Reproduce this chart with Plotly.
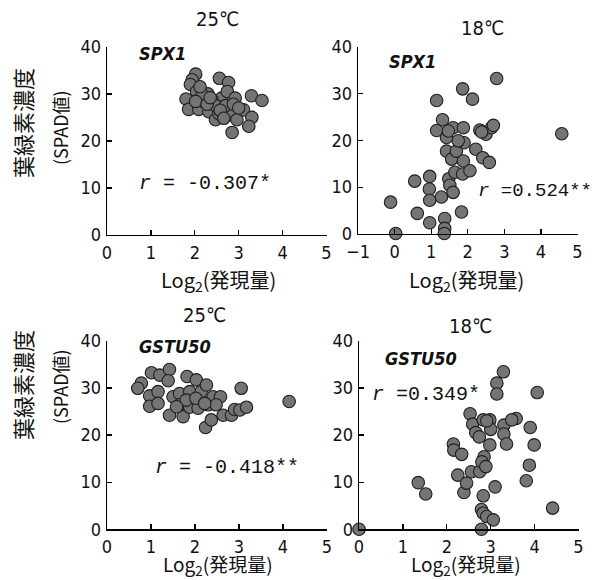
import plotly.graph_objects as go

# ---------------- data ----------------
spx1_25_x = [2.02, 1.94, 1.90, 1.80, 1.86, 2.04, 2.09, 2.30, 2.32, 2.47, 2.56, 2.61, 2.64, 2.77, 2.74, 2.92,
             2.80, 2.96, 2.85, 3.11, 3.30, 3.23, 3.29, 3.53, 2.39, 2.20, 2.17, 2.47, 2.70, 2.55, 2.02, 2.28,
             2.12, 2.35, 2.58, 2.88, 3.00, 2.66]
spx1_25_y = [34.2, 33.0, 32.0, 28.9, 26.7, 30.5, 26.7, 30.0, 26.2, 24.5, 33.3, 29.1, 27.2, 32.4, 30.5, 29.1,
             25.5, 24.5, 21.8, 26.6, 25.0, 23.1, 29.6, 28.6, 28.8, 28.4, 29.8, 27.5, 27.5, 25.8, 28.4, 27.8,
             31.5, 29.2, 26.5, 27.8, 27.0, 24.8]

spx1_18_x = [0.03, -0.11, 0.55, 0.62, 0.96, 0.96, 0.95, 0.96, 1.15, 1.28, 1.31, 1.15, 1.37, 1.37, 1.36, 1.42,
             1.48, 1.51, 1.60, 1.60, 1.42, 1.56, 1.65, 1.69, 1.86, 1.88, 1.90, 1.88, 1.86, 1.83, 2.06, 2.13,
             2.22, 2.33, 2.41, 2.50, 2.59, 2.65, 2.70, 2.79, 4.57, 1.74, 1.47, 2.38]
spx1_18_y = [0.1, 6.8, 11.3, 4.4, 2.4, 12.3, 9.6, 7.2, 28.5, 7.9, 24.4, 22.1, 3.3, 1.2, 0.1, 20.6,
             11.8, 10.4, 22.7, 8.9, 17.7, 16.0, 13.2, 17.7, 31.0, 22.7, 19.5, 15.6, 12.8, 4.7, 13.5, 28.8,
             18.1, 22.2, 16.3, 21.3, 15.3, 22.7, 23.2, 33.2, 21.4, 19.9, 22.0, 21.8]

gstu_25_x = [1.01, 1.20, 1.42, 1.39, 0.78, 0.70, 0.97, 1.16, 0.97, 1.16, 1.42, 1.50, 1.65, 1.73, 1.65, 1.82,
             1.88, 1.88, 2.03, 2.11, 2.14, 2.07, 2.26, 2.30, 2.41, 2.24, 2.37, 2.58, 2.64, 2.83, 2.90, 3.02,
             3.17, 3.05, 4.14, 2.48, 1.80, 1.58, 2.02, 2.22]
gstu_25_y = [33.2, 32.7, 33.9, 31.5, 31.0, 29.9, 28.3, 29.2, 26.1, 26.7, 24.2, 28.1, 28.8, 23.9, 26.4, 32.4,
             29.2, 25.9, 31.7, 27.4, 29.2, 25.7, 30.6, 26.4, 28.1, 21.6, 23.2, 28.1, 24.2, 24.2, 25.4, 25.3,
             25.9, 29.9, 27.1, 26.4, 27.4, 26.0, 27.8, 26.7]

gstu_18_x = [0.00, 1.35, 1.52, 2.15, 2.16, 2.34, 2.25, 2.39, 2.45, 2.53, 2.59, 2.66, 2.56, 2.75, 2.74, 2.83,
             2.85, 2.80, 2.89, 2.79, 2.83, 2.91, 2.79, 3.06, 2.83, 3.10, 2.98, 3.00, 2.98, 3.14, 3.14, 3.29,
             3.30, 3.30, 3.36, 3.58, 3.90, 3.99, 3.88, 3.81, 4.06, 4.41, 2.91, 3.48]
gstu_18_y = [0.0, 9.9, 7.5, 18.1, 16.8, 15.9, 11.5, 7.8, 9.8, 24.5, 22.3, 20.5, 12.2, 12.2, 19.6, 23.2,
             15.4, 14.3, 13.3, 4.2, 3.4, 2.7, 0.0, 2.0, 7.1, 9.0, 23.2, 21.2, 17.9, 31.0, 28.7, 33.4,
             22.1, 20.2, 18.1, 23.5, 21.6, 17.9, 13.6, 10.3, 29.0, 4.5, 23.0, 23.2]

panel_titles = ["25℃", "18℃", "25℃", "18℃"]
gene_labels = ["SPX1", "SPX1", "GSTU50", "GSTU50"]
r_labels = ["<i>r</i> = -0.307*", "<i>r</i> =0.524**", "<i>r</i> = -0.418**", "<i>r</i> =0.349*"]
x_title = "Log<sub>2</sub>(発現量)"
y_title_1 = "葉緑素濃度"
y_title_2 = "(SPAD値)"
y_ticks = [0, 10, 20, 30, 40]

W, H = 592, 580
def px(x): return x / W
def py(y): return 1 - y / H

FILL = "#747474"
EDGE = "#1e1e1e"
NUM_FONT = "DejaVu Sans Condensed, Liberation Sans Narrow, Roboto Condensed, sans-serif"
JP_FONT = "Noto Sans CJK JP, sans-serif"
MONO_FONT = "Liberation Mono, DejaVu Sans Mono, monospace"

fig = go.Figure()
series = [(spx1_25_x, spx1_25_y), (spx1_18_x, spx1_18_y), (gstu_25_x, gstu_25_y), (gstu_18_x, gstu_18_y)]
for i, (xs, ys) in enumerate(series):
    sfx = "" if i == 0 else str(i + 1)
    fig.add_trace(go.Scatter(
        x=xs, y=ys, mode="markers", xaxis="x" + sfx, yaxis="y" + sfx,
        cliponaxis=False, showlegend=False, hoverinfo="skip",
        marker=dict(size=12.5, color=FILL, line=dict(color=EDGE, width=1.1)),
    ))

# domains (pixel-based)
xdoms = [(107, 326.5), (358, 577.5), (107, 327), (359, 578.5)]
ydoms = [(235, 46.8), (234, 46.7), (529.3, 340.7), (529.3, 340.7)]
xranges = [(0, 5), (-1, 5), (0, 5), (0, 5)]
xticks = [[0, 1, 2, 3, 4, 5], [-1, 0, 1, 2, 3, 4, 5], [0, 1, 2, 3, 4, 5], [0, 1, 2, 3, 4, 5]]

axis_common = dict(showline=True, linecolor="black", linewidth=1.4, ticks="inside", ticklen=5,
                   tickwidth=1.3, tickcolor="black", showgrid=False, zeroline=False, automargin=False,
                   fixedrange=True, tickfont=dict(family=NUM_FONT, size=18, color="#111"))
layout = {}
for i in range(4):
    sfx = "" if i == 0 else str(i + 1)
    layout["xaxis" + sfx] = dict(axis_common, domain=[px(xdoms[i][0]), px(xdoms[i][1])],
                                 range=list(xranges[i]), tickvals=xticks[i], anchor="y" + sfx,
                                 ticklabelstandoff=1)
    layout["yaxis" + sfx] = dict(axis_common, domain=[py(ydoms[i][0]), py(ydoms[i][1])],
                                 range=[0, 40], tickvals=y_ticks, anchor="x" + sfx,
                                 ticklabelstandoff=1)

ann = []
title_pos = [(217, 19), (482, 28), (204, 315), (470, 326)]
gene_pos = [(137, 54), (387, 62), (137, 346), (383, 358)]
r_pos = [(137, 184), (476, 191), (153, 467), (370, 394)]
r_size = [20, 19, 20, 20]
xt_pos = [(218, 280), (466, 280), (218, 565), (466, 565)]
xt_size = [20, 20, 19, 19]
for i in range(4):
    ann.append(dict(x=px(title_pos[i][0]), y=py(title_pos[i][1]), text=panel_titles[i], showarrow=False,
                    xref="paper", yref="paper", xanchor="center", yanchor="middle",
                    font=dict(family=NUM_FONT, size=20, color="#111")))
    ann.append(dict(x=px(gene_pos[i][0]), y=py(gene_pos[i][1]), text="<b><i>" + gene_labels[i] + "</i></b>",
                    showarrow=False, xref="paper", yref="paper", xanchor="left", yanchor="middle",
                    font=dict(family=NUM_FONT, size=18, color="#111")))
    ann.append(dict(x=px(r_pos[i][0]), y=py(r_pos[i][1]), text=r_labels[i], showarrow=False,
                    xref="paper", yref="paper", xanchor="left", yanchor="middle",
                    font=dict(family=MONO_FONT, size=r_size[i], color="#111")))
    ann.append(dict(x=px(xt_pos[i][0]), y=py(xt_pos[i][1]), text=x_title, showarrow=False,
                    xref="paper", yref="paper", xanchor="center", yanchor="middle",
                    font=dict(family=JP_FONT, size=xt_size[i], color="#111")))
for cy1, cy2 in [(123, 128), (385, 387)]:
    ann.append(dict(x=px(22), y=py(cy1), text=y_title_1, showarrow=False, textangle=-90,
                    xref="paper", yref="paper", xanchor="center", yanchor="middle",
                    font=dict(family=JP_FONT, size=22, color="#111")))
    ann.append(dict(x=px(60), y=py(cy2), text=y_title_2, showarrow=False, textangle=-90,
                    xref="paper", yref="paper", xanchor="center", yanchor="middle",
                    font=dict(family=JP_FONT, size=18, color="#111")))

fig.update_layout(width=W, height=H, margin=dict(l=0, r=0, t=0, b=0), hovermode=False,
                  paper_bgcolor="white", plot_bgcolor="white", annotations=ann, **layout)
fig.write_html("out.html", config={"displayModeBar": False, "staticPlot": True},
               post_script="document.body.style.margin='0';document.body.style.padding='0';"
                           "document.documentElement.style.overflow='hidden';")
